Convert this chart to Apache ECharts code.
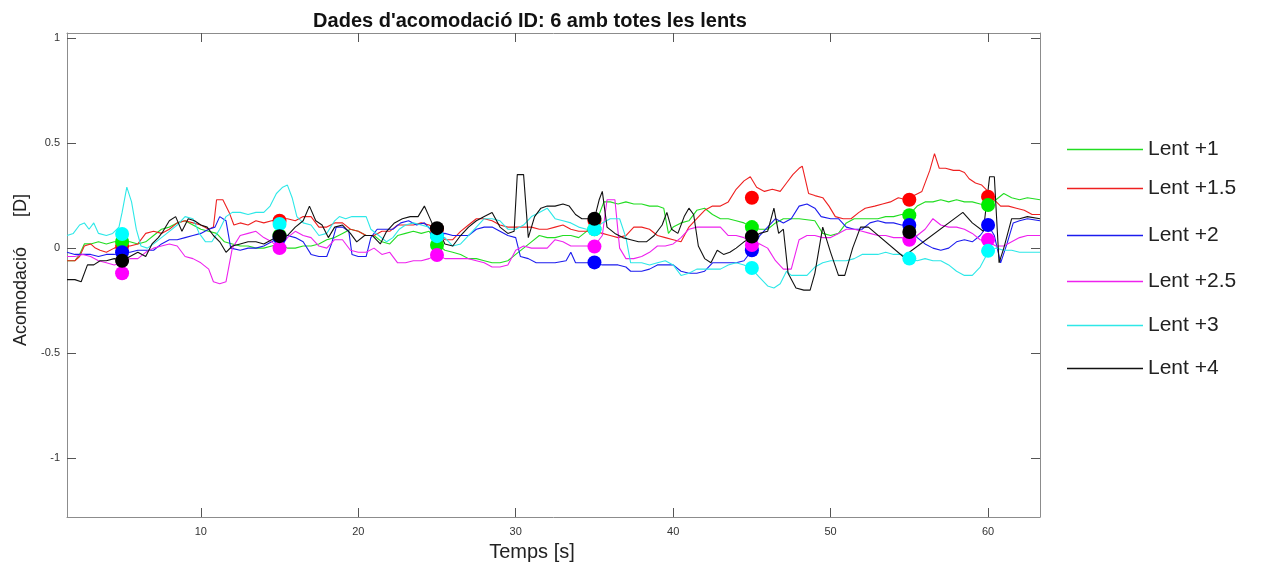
<!DOCTYPE html>
<html>
<head>
<meta charset="utf-8">
<script src="https://cdn.jsdelivr.net/npm/echarts@6/dist/echarts.min.js"></script>
<style>
  html, body { margin: 0; padding: 0; background: #fff; }
  #chart { width: 1268px; height: 564px; }
</style>
</head>
<body>
<div id="chart"></div>
<script>
// Accommodation traces (time [s], accommodation [D]) for each lens
const seriesNames = ['Lent +1', 'Lent +1.5', 'Lent +2', 'Lent +2.5', 'Lent +3', 'Lent +4'];
const lineColors = ['#22dd22', '#ee2020', '#1c1cee', '#ee22ee', '#2ee8e8', '#111111'];
const dotColors = ['#00ee00', '#ff0000', '#0000ff', '#ff00ff', '#00ffff', '#000000'];

const lent1 = [[1.5,-0.06],[2.0,-0.06],[2.3,-0.03],[2.6,0.02],[3.0,0.02],[3.5,0.03],[4.0,0.02],[4.5,0.03],[5.0,0.03],[5.5,0.03],[6.0,0.02],[6.5,0.03],[7.0,0.06],[7.5,0.09],[8.0,0.10],[8.5,0.12],[9.0,0.13],[9.5,0.11],[10.0,0.09],[10.5,0.08],[11.0,0.07],[11.5,0.03],[12.0,0.02],[12.5,0.01],[13.0,0.01],[13.5,0.0],[14.0,0.0],[14.5,0.01],[15.0,0.02],[15.5,0.0],[16.0,0.0],[16.5,0.01],[17.0,0.01],[17.5,0.02],[18.0,0.04],[18.5,0.05],[19.0,0.07],[19.5,0.09],[20.0,0.08],[20.5,0.06],[21.0,0.06],[21.5,0.03],[22.0,0.02],[22.5,0.06],[23.0,0.07],[23.5,0.08],[24.0,0.07],[24.5,0.08],[25.0,0.02],[25.5,-0.01],[26.0,-0.02],[26.5,-0.03],[27.0,-0.05],[27.5,-0.05],[28.0,-0.06],[28.5,-0.07],[29.0,-0.07],[29.5,-0.06],[30.0,-0.03],[30.5,0.0],[31.0,0.03],[31.5,0.06],[32.0,0.05],[32.5,0.05],[33.0,0.06],[33.5,0.06],[34.0,0.05],[34.5,0.08],[35.0,0.12],[35.3,0.16],[35.6,0.22],[36.0,0.22],[36.5,0.21],[37.0,0.22],[37.5,0.21],[38.0,0.21],[38.5,0.20],[39.0,0.20],[39.4,0.19],[39.7,0.07],[40.0,0.10],[40.5,0.12],[41.0,0.13],[41.5,0.18],[42.0,0.19],[42.5,0.16],[43.0,0.14],[43.5,0.14],[44.0,0.13],[44.5,0.12],[45.0,0.10],[45.5,0.09],[46.0,0.09],[46.5,0.12],[47.0,0.14],[47.5,0.14],[48.0,0.14],[49.0,0.13],[49.5,0.07],[50.0,0.06],[50.5,0.07],[51.0,0.12],[51.5,0.14],[52.0,0.14],[53.0,0.14],[53.5,0.15],[54.0,0.15],[54.5,0.16],[55.0,0.16],[55.5,0.20],[56.0,0.22],[56.5,0.22],[57.0,0.23],[57.5,0.22],[58.0,0.23],[58.5,0.22],[59.0,0.22],[59.5,0.21],[60.0,0.20],[60.5,0.23],[61.0,0.26],[61.5,0.24],[62.0,0.23],[62.5,0.24],[63.3,0.23]];

const lent15 = [[1.5,-0.06],[2.0,-0.06],[2.3,-0.04],[2.6,0.01],[3.0,0.02],[3.3,0.0],[3.6,-0.01],[4.0,-0.02],[4.5,0.0],[5.0,0.01],[5.5,0.01],[6.0,0.02],[6.5,0.07],[7.0,0.08],[7.5,0.07],[8.0,0.09],[8.5,0.12],[9.0,0.13],[9.5,0.12],[10.0,0.11],[10.5,0.09],[10.8,0.10],[11.0,0.23],[11.4,0.23],[11.8,0.17],[12.1,0.11],[12.5,0.12],[13.0,0.11],[13.5,0.13],[14.0,0.12],[14.5,0.13],[15.0,0.14],[15.5,0.14],[16.0,0.13],[16.5,0.15],[17.0,0.15],[17.5,0.10],[18.0,0.10],[18.5,0.12],[19.0,0.12],[19.5,0.09],[20.0,0.08],[20.5,0.06],[21.0,0.06],[21.5,0.08],[22.0,0.08],[22.5,0.11],[23.0,0.11],[23.5,0.11],[24.0,0.12],[24.5,0.11],[25.0,0.09],[25.5,0.04],[26.0,0.04],[26.5,0.08],[27.0,0.11],[27.5,0.14],[28.0,0.14],[28.5,0.13],[29.0,0.11],[29.5,0.10],[30.0,0.10],[30.5,0.10],[31.0,0.10],[31.5,0.09],[32.0,0.09],[32.5,0.10],[33.0,0.11],[33.5,0.09],[34.0,0.08],[34.5,0.08],[35.0,0.08],[35.5,0.07],[36.0,0.06],[36.5,0.05],[37.0,0.06],[37.5,0.10],[38.0,0.10],[38.5,0.09],[39.0,0.06],[39.5,0.05],[40.0,0.04],[40.5,0.03],[41.0,0.10],[41.5,0.14],[42.0,0.18],[42.5,0.20],[43.0,0.20],[43.5,0.22],[44.0,0.28],[44.5,0.32],[44.9,0.34],[45.3,0.29],[45.8,0.27],[46.3,0.28],[46.8,0.27],[47.2,0.31],[47.6,0.35],[48.0,0.38],[48.2,0.39],[48.6,0.26],[49.0,0.25],[49.5,0.24],[49.9,0.20],[50.3,0.15],[50.8,0.14],[51.3,0.14],[51.8,0.17],[52.2,0.19],[52.8,0.20],[53.3,0.21],[53.8,0.22],[54.3,0.24],[54.8,0.23],[55.3,0.25],[55.8,0.27],[56.3,0.37],[56.6,0.45],[56.9,0.38],[57.3,0.38],[57.8,0.37],[58.2,0.37],[58.5,0.36],[58.8,0.33],[59.2,0.31],[59.6,0.30],[60.0,0.27],[60.4,0.23],[60.8,0.20],[61.3,0.20],[61.8,0.19],[62.3,0.18],[62.8,0.16],[63.3,0.16]];

const lent2 = [[1.5,-0.02],[2.0,-0.03],[2.5,-0.03],[3.0,-0.03],[3.5,-0.04],[4.0,-0.03],[4.5,-0.03],[5.0,-0.02],[5.5,-0.02],[6.0,-0.01],[6.5,-0.01],[7.0,-0.01],[7.5,0.02],[8.0,0.04],[8.5,0.04],[9.0,0.05],[9.5,0.06],[10.0,0.07],[10.5,0.09],[10.9,0.10],[11.2,0.15],[11.6,0.13],[11.9,0.0],[12.5,-0.01],[13.0,0.0],[13.5,0.0],[14.0,0.01],[14.5,0.03],[15.0,0.05],[15.5,0.06],[16.0,0.05],[16.5,0.03],[17.0,-0.03],[17.5,-0.04],[18.0,-0.04],[18.3,0.02],[18.6,0.10],[19.0,0.10],[19.4,0.08],[19.6,-0.03],[20.0,-0.04],[20.5,-0.04],[20.8,0.05],[21.2,0.09],[21.7,0.09],[22.2,0.09],[22.7,0.12],[23.2,0.13],[23.7,0.11],[24.2,0.12],[24.7,0.08],[25.0,0.06],[25.5,0.07],[26.0,0.06],[26.5,0.06],[27.0,0.06],[27.5,0.09],[28.0,0.10],[28.5,0.10],[29.0,0.08],[29.5,0.06],[30.0,0.05],[30.3,-0.04],[30.8,-0.05],[31.3,-0.07],[32.0,-0.07],[32.5,-0.07],[33.2,-0.06],[33.5,-0.02],[33.8,-0.07],[34.3,-0.07],[35.0,-0.07],[35.5,-0.08],[36.0,-0.08],[36.5,-0.08],[37.0,-0.09],[37.3,-0.11],[38.0,-0.11],[38.5,-0.10],[39.0,-0.08],[39.5,-0.08],[40.0,-0.08],[40.5,-0.11],[41.0,-0.12],[41.5,-0.12],[42.0,-0.11],[42.5,-0.07],[43.0,-0.07],[43.5,-0.07],[44.0,-0.07],[44.5,-0.06],[45.0,-0.01],[45.5,0.06],[46.0,0.10],[46.5,0.14],[47.0,0.12],[47.5,0.14],[48.0,0.20],[48.5,0.21],[49.0,0.19],[49.4,0.15],[50.0,0.14],[50.5,0.14],[51.0,0.10],[51.5,0.09],[52.0,0.09],[52.5,0.12],[53.0,0.13],[53.5,0.12],[54.0,0.12],[54.5,0.11],[55.0,0.11],[55.5,0.05],[56.0,0.02],[56.5,0.0],[57.0,-0.01],[57.5,0.0],[58.0,0.03],[58.5,0.04],[59.0,0.03],[59.5,0.06],[60.0,0.11],[60.4,0.06],[60.8,-0.07],[61.2,0.02],[61.6,0.12],[62.0,0.13],[62.5,0.14],[63.3,0.13]];

const lent25 = [[1.5,-0.04],[2.0,-0.04],[2.5,-0.03],[3.0,-0.04],[3.5,-0.06],[4.0,-0.07],[4.5,-0.08],[5.0,-0.07],[5.5,-0.05],[6.0,-0.05],[6.5,-0.02],[7.0,0.0],[7.5,0.01],[8.0,0.02],[8.5,0.01],[9.0,-0.04],[9.5,-0.05],[10.0,-0.07],[10.5,-0.10],[10.8,-0.16],[11.2,-0.17],[11.6,-0.16],[11.8,-0.08],[12.0,0.0],[12.5,0.06],[13.0,0.07],[13.5,0.08],[14.0,0.05],[14.5,0.03],[15.0,0.0],[15.5,0.05],[16.0,0.08],[16.5,0.06],[17.0,0.05],[17.5,0.01],[18.0,0.0],[18.5,0.04],[19.0,0.04],[19.5,-0.01],[20.0,-0.02],[20.5,-0.02],[21.0,0.0],[21.5,-0.03],[22.0,-0.02],[22.5,-0.07],[23.0,-0.07],[23.5,-0.06],[24.0,-0.06],[24.5,-0.05],[25.0,-0.03],[25.5,-0.05],[26.0,-0.05],[26.5,-0.05],[27.0,-0.05],[27.5,-0.06],[28.0,-0.07],[28.5,-0.09],[29.0,-0.09],[29.5,-0.08],[30.0,-0.01],[30.5,0.01],[31.0,0.0],[31.5,0.0],[32.0,0.0],[32.5,0.04],[33.0,0.03],[33.5,0.01],[34.0,0.01],[34.5,0.01],[35.0,0.01],[35.5,0.06],[35.8,0.23],[36.3,0.23],[36.6,0.0],[37.0,-0.05],[37.5,-0.05],[38.0,-0.04],[38.5,-0.02],[39.0,0.01],[39.5,0.01],[40.0,0.02],[40.5,0.05],[41.0,0.09],[41.5,0.10],[42.0,0.10],[42.5,0.10],[43.0,0.10],[43.5,0.06],[44.0,0.06],[44.5,0.05],[45.0,0.02],[45.5,0.02],[46.0,0.0],[46.5,-0.06],[47.0,-0.10],[47.5,-0.10],[48.0,0.04],[48.5,0.06],[49.0,0.06],[49.5,0.05],[50.0,0.05],[50.5,0.07],[51.0,0.09],[51.5,0.09],[52.0,0.08],[52.5,0.07],[53.0,0.06],[53.5,0.06],[54.0,0.05],[54.5,0.05],[55.0,0.04],[55.5,0.06],[56.0,0.09],[56.5,0.14],[57.0,0.11],[57.5,0.10],[58.0,0.10],[58.5,0.09],[59.0,0.07],[59.5,0.04],[60.0,0.03],[60.5,0.01],[61.0,0.01],[61.5,0.03],[62.0,0.05],[62.5,0.06],[63.3,0.06]];

const lent3 = [[1.5,0.06],[1.9,0.07],[2.3,0.11],[2.6,0.12],[2.9,0.09],[3.2,0.12],[3.5,0.07],[4.0,0.06],[4.4,0.07],[4.8,0.10],[5.0,0.17],[5.3,0.29],[5.6,0.22],[5.9,0.09],[6.2,0.01],[6.6,0.0],[7.0,0.02],[7.5,0.05],[8.0,0.08],[8.5,0.11],[9.0,0.15],[9.5,0.14],[9.9,0.07],[10.3,0.03],[10.7,0.03],[11.2,0.09],[11.6,0.15],[12.0,0.17],[12.5,0.17],[13.0,0.16],[13.5,0.17],[14.0,0.17],[14.4,0.20],[14.8,0.26],[15.2,0.29],[15.5,0.30],[15.8,0.24],[16.1,0.15],[16.5,0.12],[17.0,0.11],[17.5,0.06],[18.0,0.07],[18.5,0.13],[18.8,0.15],[19.2,0.14],[19.6,0.15],[20.0,0.15],[20.5,0.15],[20.8,0.09],[21.3,0.06],[21.8,0.03],[22.2,0.05],[22.6,0.09],[23.0,0.11],[23.5,0.12],[24.0,0.11],[24.5,0.10],[25.0,0.06],[25.5,0.05],[26.0,0.01],[26.5,0.02],[27.0,0.06],[27.5,0.10],[28.0,0.14],[28.5,0.14],[29.0,0.13],[29.5,0.09],[30.0,0.09],[30.5,0.11],[31.0,0.15],[31.5,0.17],[32.0,0.19],[32.5,0.14],[33.0,0.13],[33.5,0.12],[34.0,0.10],[34.5,0.09],[35.0,0.09],[35.5,0.12],[36.0,0.14],[36.6,0.14],[37.0,0.05],[37.3,-0.07],[38.0,-0.07],[38.5,-0.08],[39.0,-0.07],[39.5,-0.06],[40.0,-0.08],[40.5,-0.13],[41.0,-0.12],[41.5,-0.10],[42.0,-0.10],[42.5,-0.10],[43.0,-0.10],[43.5,-0.08],[44.0,-0.07],[44.5,-0.08],[45.0,-0.10],[45.5,-0.14],[46.0,-0.18],[46.4,-0.19],[46.8,-0.17],[47.2,-0.11],[47.5,-0.13],[48.0,-0.13],[48.5,-0.13],[49.0,-0.09],[49.5,-0.07],[50.0,-0.06],[50.5,-0.06],[51.0,-0.06],[51.5,-0.05],[52.0,-0.03],[52.5,-0.03],[53.0,-0.03],[53.5,-0.02],[54.0,-0.03],[54.5,-0.03],[55.0,-0.05],[55.5,-0.06],[56.0,-0.05],[56.5,-0.06],[57.0,-0.06],[57.5,-0.08],[58.0,-0.11],[58.5,-0.13],[59.0,-0.13],[59.5,-0.09],[60.0,-0.02],[60.5,0.0],[61.0,-0.01],[61.5,-0.01],[62.0,-0.02],[62.5,-0.02],[63.3,-0.02]];

const lent4 = [[1.5,-0.15],[2.0,-0.15],[2.4,-0.16],[2.8,-0.08],[3.2,-0.08],[3.6,-0.06],[4.0,-0.06],[4.5,-0.05],[5.0,-0.06],[5.5,-0.04],[6.0,-0.02],[6.5,-0.04],[6.9,0.02],[7.3,0.05],[7.6,0.08],[8.0,0.13],[8.4,0.15],[8.8,0.08],[9.2,0.14],[9.6,0.13],[10.0,0.11],[10.4,0.10],[10.8,0.06],[11.2,0.03],[11.6,-0.02],[12.0,0.01],[12.5,0.02],[13.0,0.03],[13.5,0.03],[14.0,0.02],[14.5,0.04],[15.0,0.06],[15.5,0.06],[16.0,0.10],[16.5,0.13],[16.9,0.20],[17.3,0.13],[17.7,0.11],[18.1,0.05],[18.5,0.10],[19.0,0.11],[19.5,0.07],[19.9,0.03],[20.4,0.06],[20.9,0.06],[21.4,0.02],[21.8,0.08],[22.3,0.12],[22.8,0.14],[23.3,0.15],[23.8,0.15],[24.2,0.20],[24.5,0.15],[24.8,0.10],[25.2,0.07],[25.5,0.02],[26.0,0.01],[26.5,0.06],[27.0,0.10],[27.5,0.13],[28.0,0.15],[28.5,0.17],[29.0,0.10],[29.5,0.07],[29.9,0.08],[30.1,0.35],[30.5,0.35],[30.8,0.05],[31.2,0.15],[31.6,0.19],[32.0,0.20],[32.5,0.20],[33.0,0.21],[33.4,0.20],[33.8,0.16],[34.2,0.14],[34.6,0.14],[35.0,0.14],[35.3,0.23],[35.5,0.27],[35.8,0.10],[36.3,0.07],[36.8,0.05],[37.3,0.04],[37.8,0.03],[38.3,0.03],[38.8,0.06],[39.3,0.11],[39.6,0.17],[39.9,0.09],[40.3,0.07],[40.7,0.15],[41.0,0.19],[41.3,0.16],[41.6,0.01],[42.0,-0.05],[42.4,-0.07],[42.8,-0.01],[43.2,-0.03],[43.6,-0.02],[44.0,0.0],[44.5,0.03],[45.0,0.05],[45.5,0.07],[46.0,0.08],[46.4,0.19],[46.7,0.07],[47.0,0.09],[47.3,-0.12],[47.8,-0.19],[48.3,-0.20],[48.7,-0.20],[49.0,-0.12],[49.5,0.10],[50.0,-0.02],[50.5,-0.13],[50.9,-0.13],[51.4,0.0],[51.9,0.10],[52.4,0.10],[54.6,-0.04],[55.0,-0.02],[58.4,0.17],[59.0,0.12],[59.7,0.08],[60.1,0.34],[60.4,0.34],[60.7,-0.07],[61.0,0.0],[61.5,0.14],[62.0,0.14],[62.5,0.15],[63.3,0.14]];

// Mean accommodation per lens at the marked instants
const markTimes = [5, 15, 25, 35, 45, 55, 60];
const mark1  = [0.03, 0.06, 0.015, 0.09, 0.10, 0.157, 0.205];
const mark15 = [0.01, 0.13, 0.09, 0.13, 0.24, 0.23, 0.245];
const mark2  = [-0.02, 0.05, 0.06, -0.068, -0.01, 0.11, 0.11];
const mark25 = [-0.12, 0.0, -0.033, 0.008, 0.015, 0.04, 0.04];
const mark3  = [0.067, 0.115, 0.057, 0.09, -0.095, -0.05, -0.013];
const mark4  = [-0.06, 0.057, 0.095, 0.14, 0.055, 0.077, null];

const xTicks = [10, 20, 30, 40, 50, 60];
const yTicks = [-1, -0.5, 0, 0.5, 1];

const traces = [lent1, lent15, lent2, lent25, lent3, lent4];
const marks = [mark1, mark15, mark2, mark25, mark3, mark4];
const markOrder = [1, 0, 2, 3, 4, 5];
const legendCenters = [151, 190, 237, 283, 327, 370];

const X_MIN = 1.5, X_MAX = 63.3, Y_MIN = -1.28, Y_MAX = 1.024;
const axisGray = '#8c8c8c';
const tickGray = '#555';

function xAxisDef(pos, labels) {
  return {
    type: 'value', position: pos, min: X_MIN, max: X_MAX,
    axisLine: { show: true, onZero: false, lineStyle: { color: axisGray, width: 1 } },
    axisTick: { show: true, inside: true, length: 9, customValues: xTicks, lineStyle: { color: tickGray } },
    axisLabel: { show: labels, customValues: xTicks, color: '#333', fontSize: 11, margin: 9, fontFamily: 'Liberation Sans, Arial, sans-serif' },
    splitLine: { show: false }
  };
}
function yAxisDef(pos, labels) {
  return {
    type: 'value', position: pos, min: Y_MIN, max: Y_MAX,
    axisLine: { show: true, onZero: false, lineStyle: { color: axisGray, width: 1 } },
    axisTick: { show: true, inside: true, length: 9, customValues: yTicks, lineStyle: { color: tickGray } },
    axisLabel: { show: labels, customValues: yTicks, color: '#333', fontSize: 11, margin: 7, fontFamily: 'Liberation Sans, Arial, sans-serif' },
    splitLine: { show: false }
  };
}

const series = [];
traces.forEach((d, i) => {
  series.push({
    name: seriesNames[i], type: 'line', data: d,
    xAxisIndex: 0, yAxisIndex: 0,
    showSymbol: false, symbol: 'none', silent: true,
    lineStyle: { color: lineColors[i], width: 1.1 },
    itemStyle: { color: lineColors[i] },
    z: 2 + i * 0.1, animation: false
  });
});
markOrder.forEach((i, k) => {
  series.push({
    name: seriesNames[i] + ' (mitjana)', type: 'scatter',
    data: markTimes.map((t, j) => [t, marks[i][j]]).filter(p => p[1] !== null),
    xAxisIndex: 0, yAxisIndex: 0,
    symbol: 'circle', symbolSize: 14, silent: true,
    itemStyle: { color: dotColors[i], opacity: 1 },
    z: 5 + k * 0.1, animation: false
  });
});

const legends = seriesNames.map((n, i) => ({
  data: [n], left: 1067, top: legendCenters[i] - 12, padding: 0,
  icon: 'rect', itemWidth: 76, itemHeight: 1.5,
  selectedMode: false,
  textStyle: { fontSize: 21, color: '#222', fontFamily: 'Liberation Sans, Arial, sans-serif' }
}));

const chart = echarts.init(document.getElementById('chart'), null, { renderer: 'canvas' });
chart.setOption({
  backgroundColor: '#fff',
  animation: false,
  grid: { left: 67, right: 228, top: 33, bottom: 47, containLabel: false },
  xAxis: [xAxisDef('bottom', true), xAxisDef('top', false)],
  yAxis: [yAxisDef('left', true), yAxisDef('right', false)],
  legend: legends,
  series: series,
  graphic: [
    { type: 'text', silent: true, x: 530, y: 21,
      style: { text: "Dades d'acomodació ID: 6 amb totes les lents", x: 0, y: 0,
        textAlign: 'center', textVerticalAlign: 'middle',
        font: 'bold 20px "Liberation Sans", Arial, sans-serif', fill: '#111' } },
    { type: 'text', silent: true, x: 532, y: 552,
      style: { text: 'Temps [s]', x: 0, y: 0, textAlign: 'center', textVerticalAlign: 'middle',
        font: '20px "Liberation Sans", Arial, sans-serif', fill: '#222' } },
    { type: 'text', silent: true, x: 21, y: 270, rotation: Math.PI / 2,
      style: { text: 'Acomodació      [D]', x: 0, y: 0, textAlign: 'center', textVerticalAlign: 'middle',
        font: '18px "Liberation Sans", Arial, sans-serif', fill: '#222' } }
  ]
});
</script>
</body>
</html>
